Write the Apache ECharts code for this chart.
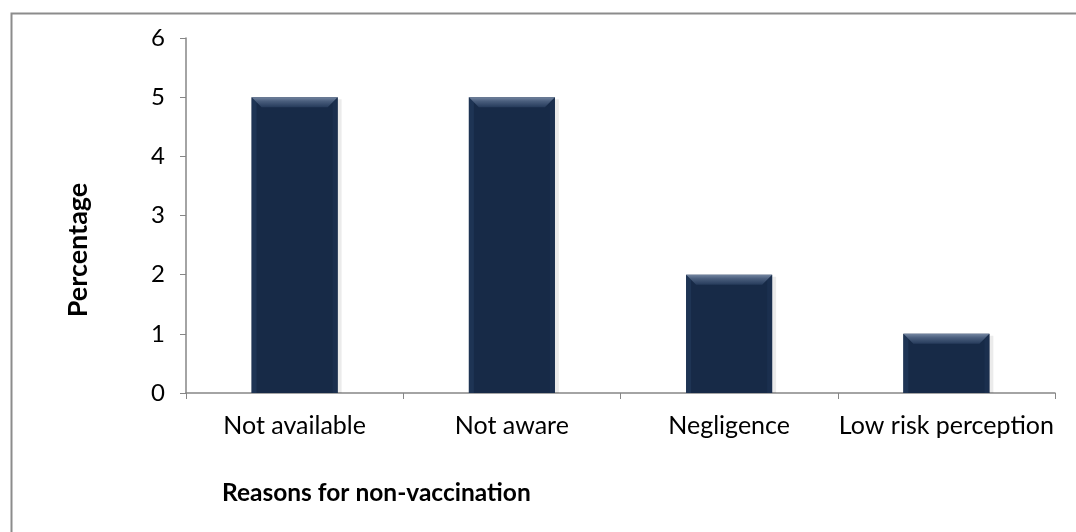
<!DOCTYPE html>
<html>
<head>
<meta charset="utf-8">
<script src="https://cdn.jsdelivr.net/npm/echarts@6/dist/echarts.min.js"></script>
<style>
  html, body { margin: 0; padding: 0; background: #ffffff; }
  #chart { width: 1076px; height: 532px; }
</style>
</head>
<body>
<div id="chart"></div>
<script>
// Reasons for non-vaccination (percentage of respondents)
const categories = ['Not available', 'Not aware', 'Negligence', 'Low risk perception'];
const percentages = [5, 5, 2, 1];
const yTicks = [0, 1, 2, 3, 4, 5, 6];
const xTitle = 'Reasons for non-vaccination';
const yTitle = 'Percentage';

const FONT = 'Lato, "Open Sans", "Liberation Sans", sans-serif';
const BAR_W = 86;

// Bevelled bar: dark body, lighter sloped top edge and faint side edges
function renderBar(params, api) {
  const idx = api.value(0);
  const val = api.value(1);
  const top = api.coord([idx, val]);
  const base = api.coord([idx, 0]);
  const x0 = top[0] - BAR_W / 2;
  const x1 = top[0] + BAR_W / 2;
  const y0 = top[1];
  const y1 = base[1];
  const bev = 10;
  const side = 5;
  return {
    type: 'group',
    children: [
      { type: 'rect', shape: { x: x0 + 2, y: y0 + 2, width: BAR_W + 2, height: y1 - y0 - 2 },
        style: { fill: 'rgba(0,0,0,0.08)' } },
      { type: 'rect', shape: { x: x0, y: y0, width: BAR_W, height: y1 - y0 },
        style: { fill: '#172a47' } },
      { type: 'polygon', shape: { points: [[x0, y0], [x0 + side, y0 + side], [x0 + side, y1], [x0, y1]] },
        style: { fill: '#1e3454' } },
      { type: 'polygon', shape: { points: [[x1, y0], [x1 - side, y0 + side], [x1 - side, y1], [x1, y1]] },
        style: { fill: '#1b2f4e' } },
      { type: 'polygon', shape: { points: [[x0, y0], [x1, y0], [x1 - bev, y0 + bev], [x0 + bev, y0 + bev]] },
        style: { fill: new echarts.graphic.LinearGradient(0, 0, 0, 1, [
          { offset: 0, color: '#7385a0' }, { offset: 0.4, color: '#4a5e7d' }, { offset: 1, color: '#263b5b' }
        ]) } }
    ]
  };
}

const chart = echarts.init(document.getElementById('chart'), null, { renderer: 'canvas' });
chart.setOption({
  animation: false,
  backgroundColor: '#ffffff',
  graphic: [
    {
      type: 'rect', left: 9, top: 11, silent: true,
      shape: { x: 0, y: 0, width: 1066, height: 540 },
      style: { fill: 'none', stroke: '#8c8c8c', lineWidth: 2 }
    },
    {
      type: 'text', left: 222, top: 481, silent: true,
      style: { text: xTitle, fill: '#000', font: 'bold 24.5px ' + FONT }
    },
    {
      type: 'text', x: 78, y: 250, rotation: Math.PI / 2, silent: true,
      style: { text: yTitle, fill: '#000', font: 'bold 27px ' + FONT, align: 'center', verticalAlign: 'middle' }
    }
  ],
  grid: { left: 186, right: 21, top: 38, bottom: 139, containLabel: false },
  xAxis: {
    type: 'category',
    data: categories,
    axisLine: { lineStyle: { color: '#868686', width: 1.5 } },
    axisTick: { show: true, length: 6, inside: false, alignWithLabel: false, lineStyle: { color: '#868686' } },
    axisLabel: { color: '#000', fontFamily: FONT, fontSize: 25, margin: 20, interval: 0, hideOverlap: false }
  },
  yAxis: {
    type: 'value',
    min: yTicks[0], max: yTicks[yTicks.length - 1], interval: 1,
    splitLine: { show: false },
    axisLine: { show: true, lineStyle: { color: '#868686', width: 1.5 } },
    axisTick: { show: true, length: 6, lineStyle: { color: '#868686' } },
    axisLabel: { color: '#000', fontFamily: FONT, fontSize: 24, margin: 21 }
  },
  series: [{
    type: 'custom',
    renderItem: renderBar,
    encode: { x: 0, y: 1 },
    data: percentages.map((v, i) => [i, v])
  }]
});
</script>
</body>
</html>
